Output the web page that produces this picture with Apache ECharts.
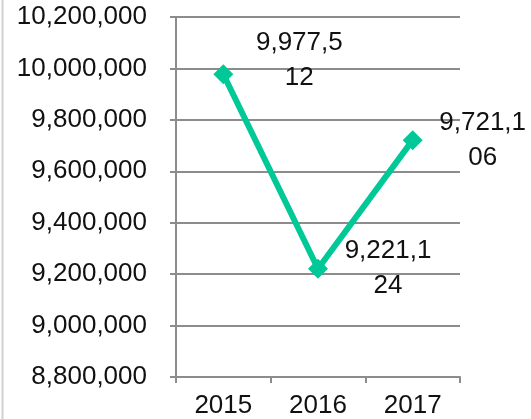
<!DOCTYPE html>
<html>
<head>
<meta charset="utf-8">
<script src="https://cdn.jsdelivr.net/npm/echarts@6/dist/echarts.min.js"></script>
<style>
  html, body { margin: 0; padding: 0; background: #fff; }
  #chart { width: 531px; height: 419px; }
</style>
</head>
<body>
<div id="chart"></div>
<script>
// Yearly totals
const years = ['2015', '2016', '2017'];
const totals = [9977512, 9221124, 9721106];
// Extra nudge for each value label (px)
const labelShiftX = [6, 0, 0];
const labelShiftY = [-14, 0, 0];

const fontFamily = '"Liberation Sans", Arial, sans-serif';
const withCommas = v => v.toString().replace(/\B(?=(\d{3})+(?!\d))/g, ',');
// Long values wrap after seven characters, as in a narrow label box
const wrapLabel = v => { const s = withCommas(v); return s.slice(0, 7) + '\n' + s.slice(7); };

const chart = echarts.init(document.getElementById('chart'), null, { renderer: 'canvas' });
chart.setOption({
  animation: false,
  backgroundColor: '#fff',
  grid: { left: 176, right: 71, top: 17, bottom: 42, containLabel: false },
  xAxis: {
    type: 'category',
    data: years,
    boundaryGap: true,
    axisLine: { lineStyle: { color: '#8c8c8c', width: 2 } },
    axisTick: { show: true, length: 6, lineStyle: { color: '#8c8c8c', width: 2 } },
    axisLabel: { color: '#111', fontSize: 26, fontFamily, margin: 16 },
    splitLine: { show: false }
  },
  yAxis: {
    type: 'value',
    min: 8800000,
    max: 10200000,
    interval: 200000,
    axisLine: { show: true, lineStyle: { color: '#8c8c8c', width: 2 } },
    axisTick: { show: true, length: 6, lineStyle: { color: '#8c8c8c', width: 2 } },
    axisLabel: { color: '#111', fontSize: 26, fontFamily, margin: 29, formatter: withCommas },
    splitLine: { show: true, lineStyle: { color: '#8c8c8c', width: 2 } }
  },
  series: [{
    type: 'line',
    data: totals.map((v, i) => ({
      value: v,
      label: { offset: [labelShiftX[i], labelShiftY[i]] }
    })),
    symbol: 'diamond',
    symbolSize: [20, 20],
    lineStyle: { color: '#00C896', width: 6 },
    itemStyle: { color: '#00C896' },
    label: {
      show: true,
      position: 'right',
      distance: 60,
      color: '#111',
      fontSize: 26,
      fontFamily,
      lineHeight: 35,
      align: 'center',
      formatter: p => wrapLabel(p.value)
    }
  }],
  graphic: [{
    type: 'line',
    shape: { x1: 2.5, y1: 0, x2: 2.5, y2: 419 },
    style: { stroke: '#d0d0d0', lineWidth: 2 }
  }]
});
</script>
</body>
</html>
